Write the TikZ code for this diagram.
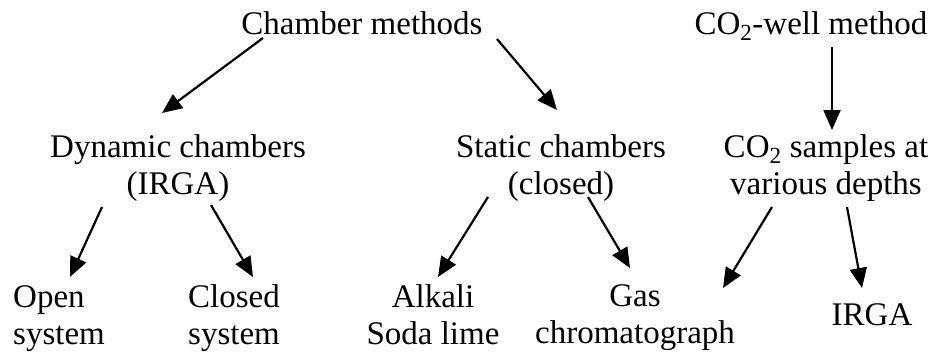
\documentclass[tikz,border=0pt]{standalone}
\usepackage{fontspec}
\setmainfont{Liberation Serif}
\usetikzlibrary{arrows.meta}
\tikzset{
  lbl/.style={inner sep=0pt, anchor=base, font=\fontsize{33}{37}\selectfont},
  arr/.style={line width=2.2pt, -{Triangle[length=20pt,width=17pt]}}
}
\newcommand{\twoline}[2]{\begin{tabular}[t]{@{}c@{}}#1\\#2\end{tabular}}
\newcommand{\twolineL}[2]{\begin{tabular}[t]{@{}l@{}}#1\\#2\end{tabular}}
\begin{document}
\begin{tikzpicture}[x=1pt,y=-1pt]
\useasboundingbox (0,0) rectangle (937,356);
\node[lbl] (cm) at (362,34) {Chamber methods};
\node[lbl] (well) at (811,34) {CO\textsubscript{2}-well method};
\node[lbl] (dyn) at (178,157) {\twoline{Dynamic chambers}{(IRGA)}};
\node[lbl] (stat) at (561,157) {\twoline{Static chambers}{(closed)}};
\node[lbl] (samp) at (826,157) {\twoline{CO\textsubscript{2} samples at}{various depths}};
\node[lbl,anchor=base west] (open) at (13,307) {\twolineL{Open}{system}};
\node[lbl] (closed) at (234,307) {\twoline{Closed}{system}};
\node[lbl] (alk) at (433,307) {\twoline{Alkali}{Soda lime}};
\node[lbl] (gas) at (635,306) {\twoline{Gas}{chromatograph}};
\node[lbl] (irga) at (872,325) {IRGA};
\draw[arr] ([shift={(-99,4)}]cm.base) -- ([shift={(-16,-44)}]dyn.base);
\draw[arr] ([shift={(135,5)}]cm.base) -- ([shift={(-4,-47)}]stat.base);
\draw[arr] ([shift={(21,13)}]well.base) -- ([shift={(6,-27)}]samp.base);
\draw[arr] ([shift={(-76,50)}]dyn.base) -- ([shift={(57,-30)}]open.base west);
\draw[arr] ([shift={(33,48)}]dyn.base) -- ([shift={(19,-30)}]closed.base);
\draw[arr] ([shift={(-73,40)}]stat.base) -- ([shift={(5,-30)}]alk.base);
\draw[arr] ([shift={(27,40)}]stat.base) -- ([shift={(-5,-38)}]gas.base);
\draw[arr] ([shift={(-54,50)}]samp.base) -- ([shift={(88,-18)}]gas.base);
\draw[arr] ([shift={(21,50)}]samp.base) -- ([shift={(-10,-37)}]irga.base);
\end{tikzpicture}
\end{document}
